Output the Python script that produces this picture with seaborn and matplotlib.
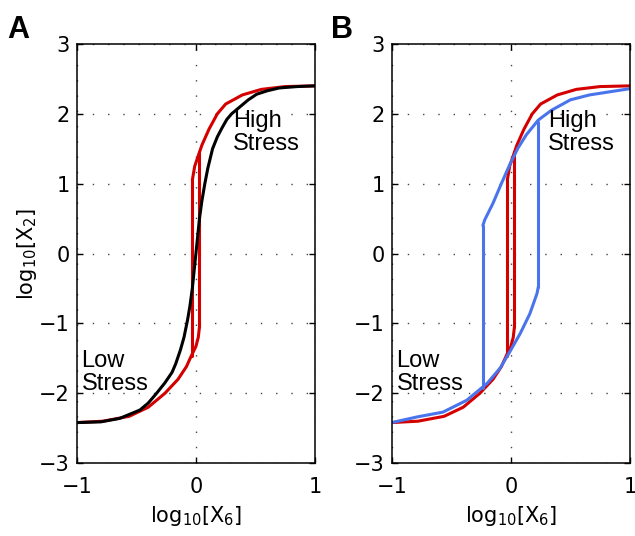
import numpy as np
import pandas as pd
import matplotlib
matplotlib.use("Agg")
import matplotlib.pyplot as plt
import seaborn as sns

# === DATA ===
# black: single-valued response, panel A
black_x = [-1.0, -0.8, -0.64, -0.47, -0.4, -0.33, -0.26, -0.2, -0.17, -0.13, -0.1,
           -0.07, -0.05, -0.03, 0.0, 0.03, 0.05, 0.075, 0.1, 0.14, 0.18, 0.22,
           0.26, 0.30, 0.37, 0.44, 0.51, 0.6, 0.7, 0.85, 1.0]
black_y = [-2.42, -2.41, -2.36, -2.24, -2.14, -2.0, -1.85, -1.7, -1.58, -1.38, -1.2,
           -0.95, -0.75, -0.5, 0.0, 0.5, 0.75, 1.0, 1.22, 1.5, 1.67, 1.8,
           1.92, 2.0, 2.1, 2.2, 2.28, 2.33, 2.37, 2.39, 2.40]

# red: narrow hysteresis loop (both panels)
red_lo_x = [-1.0, -0.78, -0.56, -0.4, -0.26, -0.15, -0.08, -0.04, 0.0, 0.02, 0.03]
red_lo_y = [-2.42, -2.40, -2.33, -2.2, -2.0, -1.8, -1.62, -1.47, -1.33, -1.2, -1.05]
red_hi_x = [-0.03, -0.01, 0.03, 0.05, 0.11, 0.18, 0.25, 0.39, 0.55, 0.75, 1.0]
red_hi_y = [1.05, 1.25, 1.45, 1.55, 1.78, 2.0, 2.14, 2.27, 2.35, 2.39, 2.40]
red_jump_x = [-0.03, 0.03]
red_jump_from = [1.05, -1.05]
red_jump_to = [-1.47, 1.45]

# blue: wide hysteresis loop (panel B)
blue_lo_x = [-1.0, -0.79, -0.57, -0.37, -0.2, -0.09, -0.01, 0.08, 0.16, 0.22, 0.23]
blue_lo_y = [-2.42, -2.34, -2.27, -2.1, -1.86, -1.64, -1.41, -1.14, -0.86, -0.57, -0.48]
blue_hi_x = [-0.235, -0.22, -0.15, -0.08, -0.01, 0.06, 0.13, 0.23, 0.34, 0.5, 0.66, 1.0]
blue_hi_y = [0.40, 0.48, 0.72, 1.0, 1.27, 1.51, 1.7, 1.91, 2.05, 2.2, 2.27, 2.36]
blue_jump_x = [-0.235, 0.23]
blue_jump_from = [0.40, -0.48]
blue_jump_to = [-1.93, 1.88]

x_ticks = [-1, 0, 1]
y_ticks = [-3, -2, -1, 0, 1, 2, 3]

RED = "#d40000"
BLUE = "#4a74ec"
LW = 2.2

sns.set_style("white")
plt.rcParams["font.family"] = ["DejaVu Sans"]
plt.rcParams.update({"text.color": "black", "axes.labelcolor": "black",
                     "xtick.color": "black", "ytick.color": "black"})

fig = plt.figure(figsize=(6.35, 5.36), dpi=100)
axA = fig.add_axes([0.121, 0.136, 0.375, 0.782])
axB = fig.add_axes([0.617, 0.136, 0.375, 0.782])


def line(ax, xs, ys, color):
    sns.lineplot(x=xs, y=ys, ax=ax, color=color, lw=LW, sort=False,
                 estimator=None, solid_capstyle="round", solid_joinstyle="round")


def loop(ax, lo_x, lo_y, hi_x, hi_y, jx, jfrom, jto, color):
    line(ax, lo_x, lo_y, color)
    line(ax, hi_x, hi_y, color)
    for x0, a, b in zip(jx, jfrom, jto):
        line(ax, [x0, x0], [a, b], color)


def style(ax, ylabel):
    ax.set_xlim(-1, 1)
    ax.set_ylim(-3, 3)
    ax.set_xticks(x_ticks)
    ax.set_yticks(y_ticks)
    ax.tick_params(direction="in", length=4, width=1, labelsize=15,
                   top=True, right=True, bottom=True, left=True)
    ax.tick_params(axis="x", pad=10)
    ax.tick_params(axis="y", pad=5)
    ax.grid(True, color="#444444", linestyle=(0, (1, 10)), linewidth=1.0)
    for s in ax.spines.values():
        s.set_linewidth(1.1)
        s.set_color("black")
    ax.set_xlabel("log$_{10}$[X$_6$]", fontsize=15, labelpad=5)
    if ylabel:
        ax.set_ylabel("log$_{10}$[X$_2$]", fontsize=15, labelpad=0)
    else:
        ax.set_ylabel("")


# === PANEL A ===
loop(axA, red_lo_x, red_lo_y, red_hi_x, red_hi_y,
     red_jump_x, red_jump_from, red_jump_to, RED)
line(axA, black_x, black_y, "black")
style(axA, True)

# === PANEL B ===
loop(axB, red_lo_x, red_lo_y, red_hi_x, red_hi_y,
     red_jump_x, red_jump_from, red_jump_to, RED)
loop(axB, blue_lo_x, blue_lo_y, blue_hi_x, blue_hi_y,
     blue_jump_x, blue_jump_from, blue_jump_to, BLUE)
style(axB, False)

for ax in (axA, axB):
    ax.text(0.31, 2.05, "High\nStress", fontsize=17, family="Liberation Sans",
            va="top", ha="left", linespacing=1.05)
    ax.text(-0.96, -1.38, "Low\nStress", fontsize=17, family="Liberation Sans",
            va="top", ha="left", linespacing=1.05)

fig.text(0.012, 0.93, "A", fontsize=22, fontweight="bold", family="Liberation Sans")
fig.text(0.522, 0.93, "B", fontsize=22, fontweight="bold", family="Liberation Sans")

fig.savefig("out.png", dpi=100)
